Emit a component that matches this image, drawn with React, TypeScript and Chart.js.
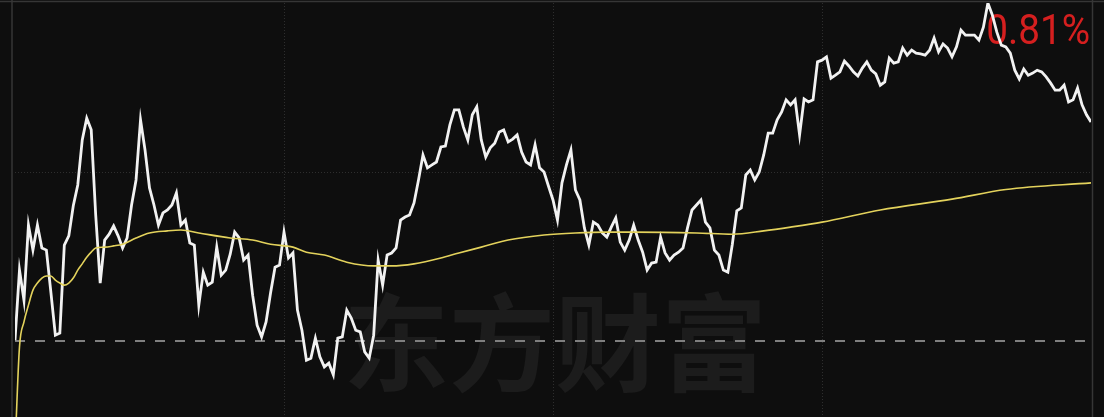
import React, { useEffect, useRef } from "react";
import { Chart, registerables } from "chart.js";

Chart.register(...registerables);

// minutes of the trading day (0..240)
const priceMinutes: number[] = Array.from({ length: 241 }, (_, i) => i);
// price change in percent, one value per minute
const pricePct: number[] = [
  0.002, 0.17, 0.098, 0.278, 0.218, 0.278, 0.223, 0.218, 0.117, 0.014,
  0.019, 0.23, 0.252, 0.324, 0.374, 0.482, 0.534, 0.506, 0.302, 0.139,
  0.242, 0.256, 0.276, 0.252, 0.223, 0.247, 0.326, 0.386, 0.53, 0.458,
  0.367, 0.326, 0.278, 0.307, 0.314, 0.326, 0.355, 0.278, 0.29, 0.235,
  0.23, 0.086, 0.165, 0.134, 0.141, 0.225, 0.158, 0.17, 0.208, 0.261,
  0.247, 0.194, 0.206, 0.11, 0.038, 0.01, 0.046, 0.115, 0.177, 0.182,
  0.261, 0.199, 0.211, 0.074, 0.026, -0.046, -0.041, 0.007, -0.038, -0.062,
  -0.053, -0.081, 0.007, 0.01, 0.074, 0.055, 0.026, 0.022, -0.026, -0.041,
  0.014, 0.194, 0.134, 0.206, 0.211, 0.223, 0.29, 0.297, 0.302, 0.331,
  0.386, 0.446, 0.415, 0.422, 0.429, 0.465, 0.467, 0.518, 0.554, 0.554,
  0.513, 0.482, 0.542, 0.561, 0.482, 0.441, 0.463, 0.474, 0.501, 0.506,
  0.477, 0.484, 0.494, 0.453, 0.429, 0.422, 0.47, 0.415, 0.405, 0.371,
  0.338, 0.29, 0.379, 0.422, 0.458, 0.362, 0.338, 0.271, 0.23, 0.285,
  0.278, 0.259, 0.249, 0.273, 0.295, 0.237, 0.218, 0.242, 0.278, 0.242,
  0.213, 0.17, 0.187, 0.189, 0.249, 0.211, 0.194, 0.206, 0.213, 0.223,
  0.271, 0.314, 0.326, 0.338, 0.285, 0.271, 0.218, 0.206, 0.17, 0.165,
  0.232, 0.312, 0.319, 0.398, 0.41, 0.386, 0.405, 0.446, 0.498, 0.498,
  0.53, 0.549, 0.578, 0.566, 0.578, 0.494, 0.58, 0.573, 0.578, 0.669,
  0.673, 0.681, 0.63, 0.637, 0.645, 0.671, 0.659, 0.645, 0.635, 0.654,
  0.669, 0.649, 0.64, 0.613, 0.621, 0.678, 0.666, 0.669, 0.702, 0.685,
  0.697, 0.69, 0.688, 0.685, 0.697, 0.726, 0.693, 0.712, 0.702, 0.681,
  0.705, 0.745, 0.733, 0.733, 0.733, 0.721, 0.752, 0.81, 0.781, 0.74,
  0.709, 0.705, 0.69, 0.649, 0.628, 0.652, 0.637, 0.642, 0.649, 0.645,
  0.633, 0.618, 0.601, 0.601, 0.613, 0.573, 0.578, 0.606, 0.566, 0.542,
  0.525,
];

// average-price line, read at these minutes
const avgMinutes: number[] = [
  0, 1, 2, 3, 4, 5, 6, 7, 8, 9, 10, 11, 12, 13, 14, 15, 16, 17, 18, 20, 22, 24,
  27, 30, 34, 37, 41, 48, 53, 57, 62, 65, 69, 74, 80, 84, 89, 95, 99, 104, 110,
  118, 125, 132, 138, 152, 160, 167, 173, 180, 193, 209, 221, 240,
];
const avgPct: number[] = [
  -0.261, -0.014, 0.046, 0.086, 0.122, 0.139, 0.151, 0.156, 0.156, 0.146, 0.139,
  0.134, 0.139, 0.151, 0.17, 0.185, 0.201, 0.213, 0.223, 0.225, 0.228, 0.232,
  0.247, 0.259, 0.264, 0.266, 0.259, 0.247, 0.242, 0.232, 0.225, 0.213, 0.206,
  0.189, 0.18, 0.18, 0.185, 0.199, 0.211, 0.225, 0.242, 0.254, 0.259, 0.261,
  0.261, 0.259, 0.256, 0.264, 0.273, 0.285, 0.314, 0.34, 0.363, 0.379,
];

const xGridMinutes: number[] = [60, 120, 180];
const yGridPct: number[] = [0.405];
const yMax = 0.81;
const yMin = -0.182;
const maxLabel = "0.81%";
const watermark = "东方财富";

const framePlugin = {
  id: "frame",
  beforeDatasetsDraw(chart: any) {
    const { ctx, chartArea, scales } = chart;
    const xs = scales.x;
    const ys = scales.y;
    const W = chart.width;
    const H = chart.height;
    ctx.save();
    // frame
    ctx.strokeStyle = "#363636";
    ctx.lineWidth = 1.5;
    ctx.beginPath();
    ctx.moveTo(0, 1.5);
    ctx.lineTo(W, 1.5);
    ctx.moveTo(chartArea.left - 3, 0);
    ctx.lineTo(chartArea.left - 3, H);
    ctx.moveTo(chartArea.right + 1.5, 0);
    ctx.lineTo(chartArea.right + 1.5, H);
    ctx.stroke();

    // dotted grid
    ctx.strokeStyle = "#2e2e2e";
    ctx.lineWidth = 1;
    ctx.setLineDash([1, 2]);
    ctx.beginPath();
    for (const m of xGridMinutes) {
      const x = Math.round(xs.getPixelForValue(m)) + 0.5;
      ctx.moveTo(x, 3);
      ctx.lineTo(x, H);
    }
    for (const p of yGridPct) {
      const y = Math.round(ys.getPixelForValue(p)) + 0.5;
      ctx.moveTo(chartArea.left, y);
      ctx.lineTo(chartArea.right, y);
    }
    ctx.stroke();
    ctx.setLineDash([]);

    // watermark
    const y0 = ys.getPixelForValue(0);
    ctx.fillStyle = "#1c1c1c";
    ctx.font = "bold 106px 'Noto Sans CJK SC'";
    ctx.textAlign = "center";
    ctx.textBaseline = "middle";
    ctx.fillText(watermark, 555, y0 + 2);

    // zero baseline
    ctx.strokeStyle = "#7f7f7f";
    ctx.lineWidth = 2;
    ctx.setLineDash([10, 10]);
    ctx.beginPath();
    ctx.moveTo(chartArea.left, Math.round(y0));
    ctx.lineTo(chartArea.right, Math.round(y0));
    ctx.stroke();
    ctx.setLineDash([]);

    // max label (slightly condensed)
    ctx.fillStyle = "#d51f1f";
    ctx.font = "43px Roboto";
    ctx.textAlign = "right";
    ctx.textBaseline = "alphabetic";
    const rx = chartArea.right - 1;
    ctx.translate(rx, 44);
    ctx.scale(0.9, 1);
    ctx.fillText(maxLabel, 0, 0);
    ctx.restore();
  },
};

export default function App() {
  const ref = useRef<HTMLCanvasElement | null>(null);
  useEffect(() => {
    if (!ref.current) return;
    const chart = new Chart(ref.current, {
      type: "line",
      data: {
        datasets: [
          {
            data: avgMinutes.map((m, i) => ({ x: m, y: avgPct[i] })),
            borderColor: "#e3d25c",
            borderWidth: 1.6,
            pointRadius: 0,
            cubicInterpolationMode: "monotone",
            fill: false,
          },
          {
            data: priceMinutes.map((m, i) => ({ x: m, y: pricePct[i] })),
            borderColor: "#f2f2f2",
            borderWidth: 2.8,
            pointRadius: 0,
            tension: 0,
            fill: false,
          },
        ],
      },
      options: {
        responsive: false,
        animation: false,
        events: [],
        layout: { padding: { left: 15, right: 13, top: 3, bottom: 0 } },
        plugins: {
          legend: { display: false },
          tooltip: { enabled: false },
        },
        scales: {
          x: { type: "linear", min: 0, max: 240, display: false },
          y: { type: "linear", min: yMin, max: yMax, display: false },
        },
      },
      plugins: [framePlugin],
    });
    return () => chart.destroy();
  }, []);
  return (
    <div
      style={{
        position: "fixed",
        left: 0,
        top: 0,
        width: 1104,
        height: 417,
        background: "#0e0e0e",
      }}
    >
      <canvas ref={ref} width={1104} height={417} style={{ display: "block" }} />
    </div>
  );
}
